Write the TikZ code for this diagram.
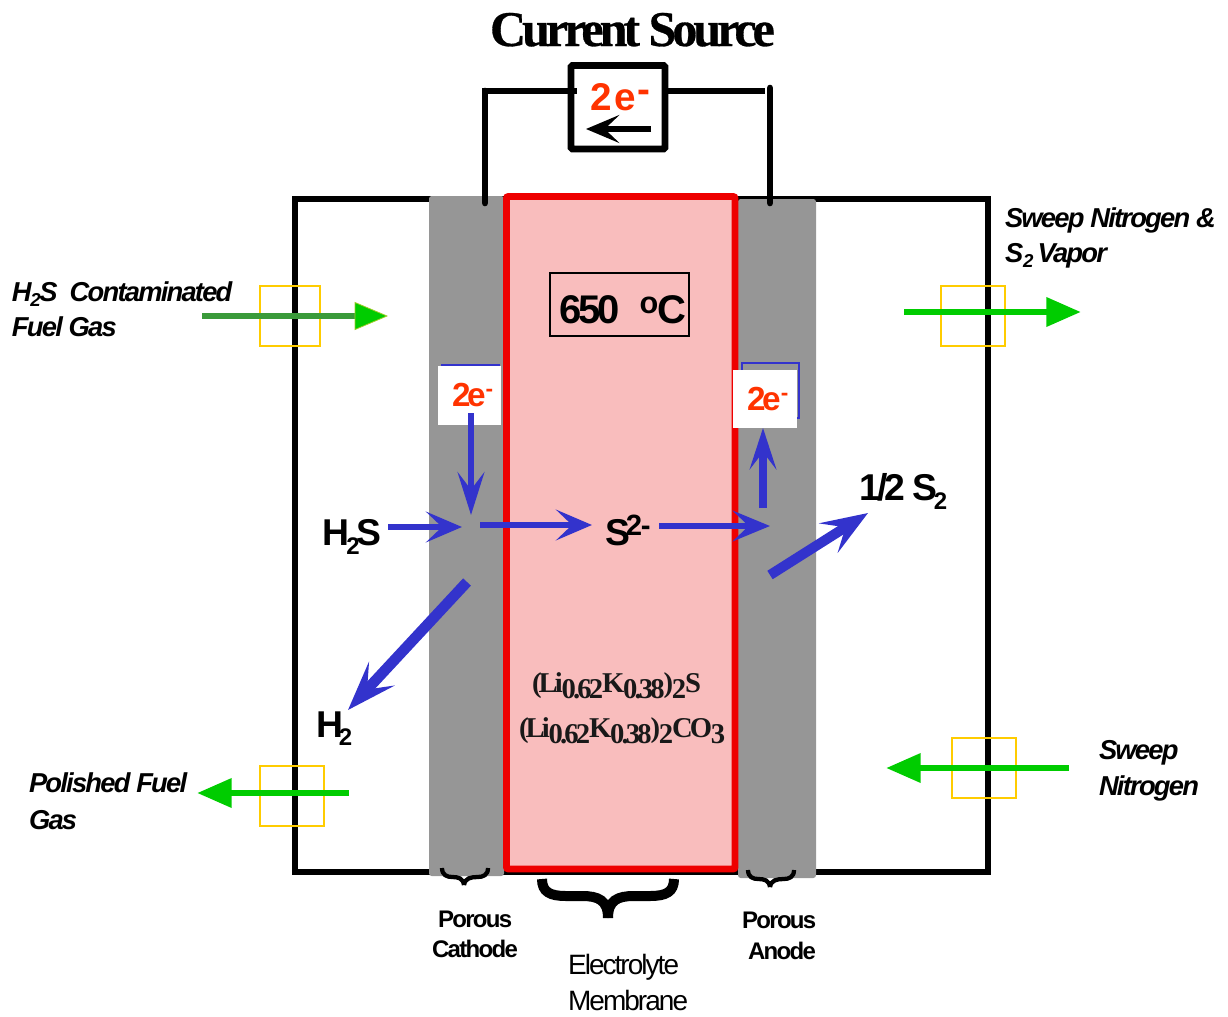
\documentclass[tikz,border=0pt]{standalone}
\usepackage{fontspec}
\usetikzlibrary{arrows.meta}
\newfontfamily\sansb[LetterSpace=-6.5]{Liberation Sans}
\newfontfamily\sansc[LetterSpace=-7]{Liberation Sans}
\newfontfamily\sanstight[LetterSpace=-7.5]{Liberation Sans}
\newfontfamily\sanse[LetterSpace=-10]{Liberation Sans}
\newfontfamily\seriftight[LetterSpace=-8,FakeBold=.6]{Liberation Serif}
\newfontfamily\serifheavy[LetterSpace=-10]{Liberation Serif}
\newcommand{\fsz}[1]{\fontsize{#1}{#1}\selectfont}
\newcommand{\lowered}[3]{\raisebox{-#1pt}{\fsz{#2}#3}}
\newcommand{\dn}[1]{\kern-.9pt\raisebox{-5pt}{#1}\kern-.9pt}
\definecolor{blueA}{HTML}{3333CC}
\definecolor{greenA}{HTML}{00CC00}
\definecolor{greenB}{HTML}{3A9A3A}
\definecolor{orangeA}{HTML}{FF3300}
\definecolor{yellowA}{HTML}{FFCC00}
\definecolor{grayA}{HTML}{969696}
\definecolor{redA}{HTML}{EE0000}
\definecolor{pinkA}{HTML}{F9BDBD}
\tikzset{
  label/.style={anchor=base west,inner sep=0pt,outer sep=0pt,text=black},
  italiclabel/.style={label,font=\sansb\fsz{20.5}\bfseries\itshape},
  boldlabel/.style={label,font=\sansc\fsz{18}\bfseries},
  chem/.style={label,font=\sanstight\fsz{28}\bfseries},
  elabel/.style={label,font=\sanse\fsz{25}\bfseries,text=orangeA},
  formula/.style={label,font=\serifheavy\fsz{21.5}\bfseries,text=black!90},
  bluearrow/.style={draw=blueA,line width=#1},
  bluearrow/.default=5pt,
  greenarrow/.style={draw=greenA,line width=5pt,-{Triangle[length=26pt,width=21pt,fill=greenA]}},
  yellowbox/.style={draw=yellowA,line width=1.1pt},
  wire/.style={draw=black,line width=5pt},
  bracepath/.style={draw=black,line width=#1},
  labelbox/.style={fill=white,inner sep=0pt,outer sep=0pt,anchor=north west},
}
\begin{document}
\begin{tikzpicture}[x=.75pt,y=-.75pt]
\useasboundingbox (0,0) rectangle (1228,1017);
% housing
\draw[line width=4.5pt] (295,199) rectangle (988,872);
% electrodes and electrolyte
\fill[grayA,rounded corners=2pt] (429,196) rectangle (504,876);
\fill[grayA,rounded corners=2pt] (738,199) rectangle (816,878);
\draw[draw=redA,fill=pinkA,line width=5.2pt,rounded corners=1.5pt] (506.5,196.5) rectangle (735,869);
% wires and source
\draw[wire,line cap=round] (485,203) -- (485,91);
\draw[wire] (482,91) -- (577,91);
\draw[wire] (665,91) -- (765,91);
\draw[wire,line cap=round] (770,203) -- (770,88);
\draw[wire,rounded corners=1pt] (571,65.5) rectangle (665,149);
% yellow fittings
\draw[yellowbox] (260,286) rectangle (320,346);
\draw[yellowbox] (941,286) rectangle (1005,346);
\draw[yellowbox] (952,738) rectangle (1016,798);
\draw[yellowbox] (260,766) rectangle (324,826);
% 2e- boxes
\draw[draw=blueA,line width=.9pt] (441,365) -- (500,365);
\draw[draw=blueA,line width=.9pt] (742,363) rectangle (799,418);
\node[labelbox,minimum width=47.25pt,minimum height=44.25pt] (eboxL) at (438,366) {};
\node[labelbox,minimum width=48pt,minimum height=43.5pt] (eboxR) at (733,370) {};
\node[elabel] (eL) at (452,406) {2e\raisebox{7pt}{\fsz{17}-}};
\node[elabel] (eR) at (747,410) {2e\raisebox{7pt}{\fsz{17}-}};
% title and source label
\node[label,font=\seriftight\fsz{37.5}\bfseries] (title) at (490,46) {Current Source};
\node[label,font=\sansb\fsz{29}\bfseries,text=orangeA] (srcE) at (590,110) {2\kern2.5pt e\kern1pt\raisebox{6pt}{-}};
% temperature
\draw[line width=.9pt] (550,273) rectangle (689,336);
\node[label,font=\sanstight\fsz{30}\bfseries] (temp) at (559,323) {650\kern15pt\raisebox{7pt}{\fsz{23}o}\kern-.5pt C};
% species
\node[chem] (hs) at (322,545) {H\kern-2pt\lowered{7}{18}{2}\kern-2pt S};
\node[chem] (sion) at (605,545) {S\kern-3pt\raisebox{7pt}{\fsz{22}2\kern-1pt -}};
\node[chem] (halfs) at (859,500) {1/2 S\kern-3pt\lowered{7}{18}{2}};
\node[chem] (htwo) at (316,737) {H\kern-3pt\lowered{6}{18}{2}};
% formulae
\node[formula] (f1) at (532,692) {(Li\dn{0.62}K\dn{0.38})\dn{2}S};
\node[formula] (f2) at (519,737) {(Li\dn{0.62}K\dn{0.38})\dn{2}CO\dn{3}};
% gas labels
\node[italiclabel] (l1) at (12,301) {H\kern-1pt\lowered{4}{14}{2}\kern-1pt S\kern9pt Contaminated};
\node[italiclabel] (l2) at (12,336) {Fuel Gas};
\node[italiclabel] (l3) at (1005,227) {Sweep Nitrogen \&};
\node[italiclabel] (l4) at (1005,262) {S\lowered{4}{14}{2}\kern3pt Vapor};
\node[italiclabel] (l5) at (29,792) {Polished Fuel};
\node[italiclabel] (l6) at (29,829) {Gas};
\node[italiclabel] (l7) at (1099,759) {Sweep};
\node[italiclabel] (l8) at (1099,795) {Nitrogen};
% captions
\node[boldlabel] (c1) at (438,927) {Porous};
\node[boldlabel] (c2) at (432,957) {Cathode};
\node[boldlabel] (c3) at (742,928) {Porous};
\node[boldlabel] (c4) at (748,959) {Anode};
\node[label,font=\sansc\fsz{21}] (c5) at (568,974) {Electrolyte};
\node[label,font=\sansc\fsz{21}] (c6) at (568,1010) {Membrane};
% named arrow ends
\coordinate (a1) at (471,413); \coordinate (a2) at (471,515);
\coordinate (b1) at (388,527); \coordinate (b2) at (462,527);
\coordinate (c1a) at (480,525); \coordinate (c2a) at (592,525);
\coordinate (d1) at (659,526); \coordinate (d2) at (770,526);
\coordinate (e1) at (763,508); \coordinate (e2) at (763,428);
\coordinate (g1) at (770,575); \coordinate (g2) at (868,513);
\coordinate (h1) at (467,582); \coordinate (h2) at (348,710);
\coordinate (i1) at (651,129); \coordinate (i2) at (586,129);
\coordinate (j1) at (202,316); \coordinate (j2) at (388,316);
\coordinate (k1) at (904,312); \coordinate (k2) at (1081,312);
\coordinate (m1) at (1069,768); \coordinate (m2) at (886,768);
\coordinate (n1) at (349,793); \coordinate (n2) at (197,793);
% blue arrows
\draw[bluearrow=5pt,-{Stealth[length=32pt,width=20pt,inset=13pt]}] (a1) -- (a2);
\draw[bluearrow=5pt,-{Stealth[length=27pt,width=23pt,inset=12pt]}] (b1) -- (b2);
\draw[bluearrow=5pt,-{Stealth[length=27pt,width=23pt,inset=12pt]}] (c1a) -- (c2a);
\draw[bluearrow=5pt,-{Stealth[length=28pt,width=23pt,inset=12pt]}] (d1) -- (d2);
\draw[bluearrow=5.5pt,-{Stealth[length=31pt,width=20pt,inset=13pt]}] (e1) -- (e2);
\draw[bluearrow=7.5pt,-{Stealth[length=35pt,width=26pt,inset=15pt]}] (g1) -- (g2);
\draw[bluearrow=8pt,-{Stealth[length=37pt,width=26pt,inset=16pt]}] (h1) -- (h2);
\draw[draw=black,line width=5pt,-{Stealth[length=25pt,width=21pt,inset=11pt]}] (i1) -- (i2);
% green arrows
\draw[draw=greenB,line width=5pt,-{Triangle[length=25pt,width=21pt,color=yellow!60!greenA,fill=greenA,line width=.6pt]}] (j1) -- (j2);
\draw[greenarrow] (k1) -- (k2);
\draw[greenarrow] (m1) -- (m2);
\draw[greenarrow] (n1) -- (n2);
% braces
\draw[bracepath=7.5pt] (542,879) .. controls (542,892) and (550,896) .. (566,896) -- (582,896) .. controls (598,896) and (608,900) .. (608,918);
\draw[bracepath=7.5pt] (674,879) .. controls (674,892) and (666,896) .. (650,896) -- (634,896) .. controls (618,896) and (608,900) .. (608,918);
\draw[bracepath=3.2pt] (442,868) .. controls (442,875) and (447,877) .. (452,877) .. controls (458,877) and (463,878) .. (464,885);
\draw[bracepath=3.2pt] (488,868) .. controls (488,875) and (483,877) .. (478,877) .. controls (471,877) and (465,878) .. (464,885);
\draw[bracepath=3.2pt] (748,870) .. controls (748,877) and (753,879) .. (758,879) .. controls (764,879) and (769,880) .. (770,887);
\draw[bracepath=3.2pt] (794,870) .. controls (794,877) and (789,879) .. (784,879) .. controls (777,879) and (771,880) .. (770,887);
\end{tikzpicture}
\end{document}
